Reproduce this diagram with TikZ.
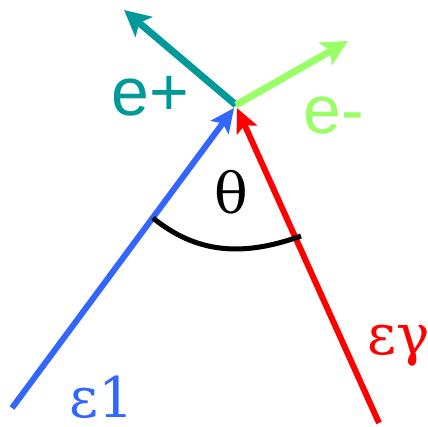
\documentclass[tikz,border=0pt]{standalone}
\usepackage{fontspec}
\setmainfont{DejaVu Serif}
\newfontfamily\labsans{Liberation Sans}
\usetikzlibrary{arrows.meta}
\definecolor{cblue}{RGB}{51,102,255}
\definecolor{cred}{RGB}{255,0,0}
\definecolor{cteal}{RGB}{0,153,153}
\definecolor{cgreen}{RGB}{153,255,102}
\tikzset{
  ray/.style={line width=6pt,-{Stealth[length=24pt,width=22pt,inset=5pt]}},
  out ray/.style={line width=7pt,-{Stealth[length=26pt,width=26pt,inset=6pt]}},
  sanslab/.style={font=\labsans\fontsize{68}{68}\selectfont,anchor=base west,inner sep=0pt},
  seriflab/.style={font=\fontsize{56}{56}\selectfont,anchor=base west,inner sep=0pt},
}
\begin{document}
\begin{tikzpicture}[x=1pt,y=-1pt]
\useasboundingbox (0,0) rectangle (428,426);
\coordinate (v) at (236,105);
\coordinate (vb) at (234,108);
\coordinate (vr) at (237,108);
\coordinate (b0) at (12,408);
\coordinate (r0) at (379,423);
\coordinate (tp) at (124,10);
\coordinate (gp) at (348,41);
\coordinate (a1) at (153,218);
\coordinate (a2) at (301,236);
\draw[ray,cblue] (b0) -- (vb);
\draw[ray,cred] (r0) -- (vr);
\draw[out ray,cteal] (v) -- (tp);
\draw[out ray,cgreen] (v) -- (gp);
\draw[line width=5pt,black] (a1) .. controls (195,252) and (240,258) .. (a2);
\node[sanslab,text=cteal] (ep) at (111,115) {e+};
\node[sanslab,text=cgreen] (em) at (303,133) {e-};
\node[font=\fontsize{56}{56}\selectfont,inner sep=0pt] (th) at (231,192) {θ};
\node[seriflab,text=cblue] (e1) at (69,417) {ε1};
\node[seriflab,text=cred] (eg) at (367,354) {εγ};
\end{tikzpicture}
\end{document}
